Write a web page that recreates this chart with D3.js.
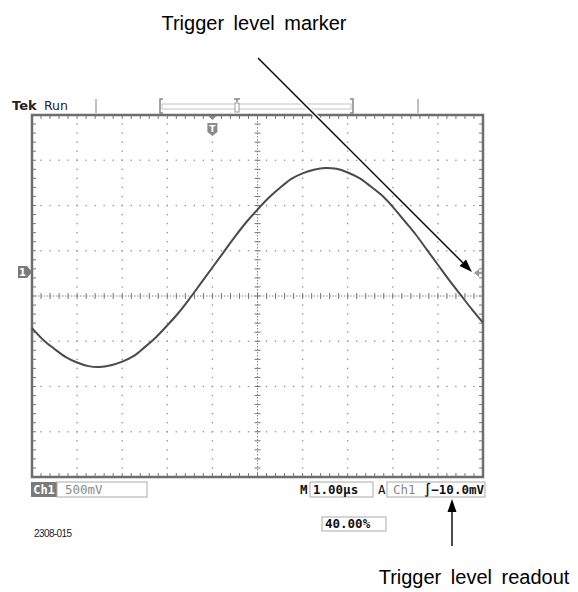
<!DOCTYPE html>
<html><head><meta charset="utf-8">
<script src="https://cdn.jsdelivr.net/npm/d3@7"></script>
<style>
html,body{margin:0;padding:0;background:#fff;}
svg{display:block;}
</style></head>
<body>
<svg id="c" width="578" height="592"></svg>
<script>
// ---- data ----
const timeUs = [-4,-3.75,-3.5,-3.25,-3,-2.75,-2.5,-2.25,-2,-1.75,-1.5,-1.25,-1,-0.75,-0.5,-0.25,0,0.25,0.5,0.75,1,1.25,1.5,1.75,2,2.25,2.5,2.75,3,3.25,3.5,3.75,4,4.25,4.5,4.75,5,5.25,5.5,5.75,6];
const ch1Volts = [-0.62,-0.75,-0.85,-0.94,-1.00,-1.04,-1.05,-1.03,-0.99,-0.93,-0.83,-0.72,-0.59,-0.45,-0.29,-0.12,0.05,0.22,0.39,0.55,0.69,0.82,0.93,1.03,1.09,1.13,1.15,1.14,1.10,1.04,0.95,0.85,0.72,0.57,0.42,0.25,0.08,-0.09,-0.25,-0.41,-0.56];
const timeDomain = [-4, 6];          // 10 divisions at 1.00 us/div
const voltDomain = [-2.265, 1.735];  // 8 divisions at 500 mV/div, ground 0.53 div above centre
const groundVolts = 0;
const triggerVolts = -0.01;
const triggerTime = 0;
const statusLabels = ["Tek", "Run"];
const calloutLabels = ["Trigger level marker", "Trigger level readout"];
const chLabel = "Ch1", voltsPerDiv = "500mV", timeLabel = "M", timePerDiv = "1.00\u00b5s";
const trigLabel = "A", trigSource = "Ch1", trigLevel = "\u222B\u221210.0mV", trigPos = "40.00%";
const figureId = "2308-015";

// ---- drawing ----
const svg = d3.select("#c");
const L = 32, R = 483, T = 115, B = 477;
const x = d3.scaleLinear().domain(timeDomain).range([L, R]);
const y = d3.scaleLinear().domain(voltDomain).range([B, T]);
const divX = (R - L) / 10, divY = (B - T) / 8;
const cx = (L + R) / 2, cy = (T + B) / 2;
const grid = svg.append("g");

// dotted graticule lines
const dotC = "#9a9a9a";
for (let i = 1; i < 10; i++) {
  if (i === 5) continue;
  const gx = L + i * divX;
  for (let j = 1; j < 40; j++) {
    grid.append("rect").attr("x", gx - 0.7).attr("y", T + j * divY / 5 - 0.7).attr("width", 1.4).attr("height", 1.4).attr("fill", dotC);
  }
}
for (let i = 1; i < 8; i++) {
  if (i === 4) continue;
  const gy = T + i * divY;
  for (let j = 1; j < 50; j++) {
    grid.append("rect").attr("x", L + j * divX / 5 - 0.7).attr("y", gy - 0.7).attr("width", 1.4).attr("height", 1.4).attr("fill", dotC);
  }
}
// centre lines with ticks
grid.append("line").attr("x1", cx).attr("x2", cx).attr("y1", T).attr("y2", B).attr("stroke", "#888").attr("stroke-width", 1).attr("stroke-dasharray", "1.5,1.5");
grid.append("line").attr("x1", L).attr("x2", R).attr("y1", cy).attr("y2", cy).attr("stroke", "#888").attr("stroke-width", 1).attr("stroke-dasharray", "1.5,1.5");
for (let j = 1; j < 40; j++) {
  const ty = T + j * divY / 5;
  grid.append("line").attr("x1", cx - 3).attr("x2", cx + 3).attr("y1", ty).attr("y2", ty).attr("stroke", "#777").attr("stroke-width", 1);
  grid.append("line").attr("x1", L).attr("x2", L + 4).attr("y1", ty).attr("y2", ty).attr("stroke", "#777").attr("stroke-width", 1);
  grid.append("line").attr("x1", R - 4).attr("x2", R).attr("y1", ty).attr("y2", ty).attr("stroke", "#777").attr("stroke-width", 1);
}
for (let j = 1; j < 50; j++) {
  const tx = L + j * divX / 5;
  grid.append("line").attr("x1", tx).attr("x2", tx).attr("y1", cy - 3).attr("y2", cy + 3).attr("stroke", "#777").attr("stroke-width", 1);
  grid.append("line").attr("x1", tx).attr("x2", tx).attr("y1", T).attr("y2", T + 4).attr("stroke", "#777").attr("stroke-width", 1);
  grid.append("line").attr("x1", tx).attr("x2", tx).attr("y1", B - 4).attr("y2", B).attr("stroke", "#777").attr("stroke-width", 1);
}
// border
grid.append("rect").attr("x", L).attr("y", T).attr("width", R - L).attr("height", B - T)
  .attr("fill", "none").attr("stroke", "#6e6e6e").attr("stroke-width", 2.5);

// waveform
const pts = timeUs.map((t, i) => [t, ch1Volts[i]]);
svg.append("path").datum(pts)
  .attr("d", d3.line().x(d => x(d[0])).y(d => y(d[1])).curve(d3.curveCatmullRom))
  .attr("fill", "none").attr("stroke", "#4a4a4a").attr("stroke-width", 2);

// channel 1 ground marker
const gyv = y(groundVolts);
svg.append("path").attr("d", `M18,${gyv - 6}H27L32,${gyv}L27,${gyv + 6}H18Z`).attr("fill", "#7a7a7a");
svg.append("text").attr("x", 22.5).attr("y", gyv + 4).attr("text-anchor", "middle").attr("fill", "#fff")
  .attr("font-family", "DejaVu Sans").attr("font-size", 10).attr("font-weight", "bold").text("1");

// trigger level marker (right edge)
const tly = y(triggerVolts);
svg.append("path").attr("d", `M${R - 9},${tly}L${R - 4},${tly - 4}V${tly - 1.2}H${R - 1}V${tly + 1.2}H${R - 4}V${tly + 4}Z`).attr("fill", "#9a9a9a");

// trigger position marker
const tpx = x(triggerTime);
svg.append("path").attr("d", `M${tpx - 4},${T + 1}H${tpx + 4}L${tpx},${T + 5}Z`).attr("fill", "#888");
svg.append("path").attr("d", `M${tpx - 5},${T + 8}H${tpx + 5}V${T + 17}L${tpx},${T + 21}L${tpx - 5},${T + 17}Z`).attr("fill", "#8a8a8a");
svg.append("text").attr("x", tpx).attr("y", T + 17).attr("text-anchor", "middle").attr("fill", "#fff")
  .attr("font-family", "DejaVu Sans").attr("font-size", 9).attr("font-weight", "bold").text("T");

// top status bar
svg.append("text").attr("x", 12).attr("y", 110).attr("font-family", "DejaVu Sans").attr("font-size", 13)
  .attr("font-weight", "bold").attr("fill", "#222").text(statusLabels[0]);
svg.append("text").attr("x", 44).attr("y", 110).attr("font-family", "DejaVu Sans").attr("font-size", 12.5)
  .attr("fill", "#222").text(statusLabels[1]);
const bar = svg.append("g").attr("stroke", "#aaa").attr("fill", "none");
bar.append("line").attr("x1", 96).attr("x2", 96).attr("y1", 99).attr("y2", 113).attr("stroke-width", 1.5);
bar.append("line").attr("x1", 418).attr("x2", 418).attr("y1", 99).attr("y2", 113).attr("stroke-width", 1.5);
bar.append("path").attr("d", "M163,99H160V113H163").attr("stroke-width", 1.5).attr("stroke", "#888");
bar.append("path").attr("d", "M350,99H353V113H350").attr("stroke-width", 1.5).attr("stroke", "#888");
bar.append("rect").attr("x", 162).attr("y", 104).attr("width", 189).attr("height", 5).attr("stroke", "#c4c4c4");
bar.append("path").attr("d", "M234,99H240M237,99V102").attr("stroke", "#888").attr("stroke-width", 1.5);
bar.append("rect").attr("x", 235).attr("y", 103).attr("width", 4).attr("height", 9).attr("stroke", "#999").attr("fill", "#fff");

// callout: trigger level marker
const tip = [R - 11, tly - 1];
const st = [258, 58];
const ang = Math.atan2(tip[1] - st[1], tip[0] - st[0]);
const hl = 13, hw = 4.5;
const bx = tip[0] - hl * Math.cos(ang), by = tip[1] - hl * Math.sin(ang);
svg.append("line").attr("x1", st[0]).attr("y1", st[1]).attr("x2", bx).attr("y2", by).attr("stroke", "#fff").attr("stroke-width", 4);
svg.append("line").attr("x1", st[0]).attr("y1", st[1]).attr("x2", bx).attr("y2", by).attr("stroke", "#000").attr("stroke-width", 1.4);
svg.append("path").attr("d", `M${tip[0]},${tip[1]}L${bx + hw * Math.sin(ang)},${by - hw * Math.cos(ang)}L${bx - hw * Math.sin(ang)},${by + hw * Math.cos(ang)}Z`).attr("fill", "#000");
svg.append("text").attr("x", 254).attr("y", 30).attr("text-anchor", "middle")
  .attr("font-family", "Liberation Sans Narrow, Liberation Sans, Arial").attr("font-size", 20).attr("word-spacing", 4)
  .attr("fill", "#000").text(calloutLabels[0]);

// bottom readouts
const ry = 482, rh = 15;
const mono = "DejaVu Sans Mono, Liberation Mono, monospace";
svg.append("rect").attr("x", 31).attr("y", ry).attr("width", 26).attr("height", rh).attr("fill", "#7a7a7a");
svg.append("text").attr("x", 44).attr("y", ry + 12).attr("text-anchor", "middle").attr("fill", "#fff").attr("font-family", mono).attr("font-size", 12).attr("font-weight", "bold").text(chLabel);
svg.append("rect").attr("x", 57).attr("y", ry).attr("width", 90).attr("height", rh).attr("fill", "#fff").attr("stroke", "#aaa");
svg.append("text").attr("x", 65).attr("y", ry + 12).attr("fill", "#8a8a8a").attr("font-family", mono).attr("font-size", 12.5).text(voltsPerDiv);

svg.append("text").attr("x", 300).attr("y", ry + 12).attr("fill", "#111").attr("font-family", mono).attr("font-size", 12.5).attr("font-weight", "bold").text(timeLabel);
svg.append("rect").attr("x", 310).attr("y", ry).attr("width", 63).attr("height", rh).attr("fill", "#fff").attr("stroke", "#aaa");
svg.append("text").attr("x", 313).attr("y", ry + 12).attr("fill", "#111").attr("font-family", mono).attr("font-size", 12.5).attr("font-weight", "bold").text(timePerDiv);

svg.append("text").attr("x", 378).attr("y", ry + 12).attr("fill", "#111").attr("font-family", mono).attr("font-size", 12.5).text(trigLabel);
svg.append("rect").attr("x", 387).attr("y", ry).attr("width", 98).attr("height", rh).attr("fill", "#fff").attr("stroke", "#aaa");
svg.append("text").attr("x", 393).attr("y", ry + 12).attr("fill", "#8a8a8a").attr("font-family", mono).attr("font-size", 12.5).text(trigSource);
svg.append("text").attr("x", 484).attr("y", ry + 12).attr("text-anchor", "end").attr("fill", "#111").attr("font-family", mono).attr("font-size", 12.5).attr("font-weight", "bold").text(trigLevel);

svg.append("rect").attr("x", 322).attr("y", 517).attr("width", 64).attr("height", 14).attr("fill", "#fff").attr("stroke", "#aaa");
svg.append("text").attr("x", 325).attr("y", 528).attr("fill", "#111").attr("font-family", mono).attr("font-size", 12.5).attr("font-weight", "bold").text(trigPos);

svg.append("text").attr("x", 34).attr("y", 537).attr("fill", "#222").attr("font-family", "Liberation Sans Narrow, Liberation Sans, Arial").attr("font-size", 10).attr("letter-spacing", -0.6).text(figureId);

// callout: trigger level readout
svg.append("line").attr("x1", 452).attr("x2", 452).attr("y1", 546).attr("y2", 510).attr("stroke", "#000").attr("stroke-width", 1.4);
svg.append("path").attr("d", "M452,499L456.5,512H447.5Z").attr("fill", "#000");
svg.append("text").attr("x", 474).attr("y", 584).attr("text-anchor", "middle")
  .attr("font-family", "Liberation Sans Narrow, Liberation Sans, Arial").attr("font-size", 20).attr("word-spacing", 4)
  .attr("fill", "#000").text(calloutLabels[1]);
</script>
</body></html>
